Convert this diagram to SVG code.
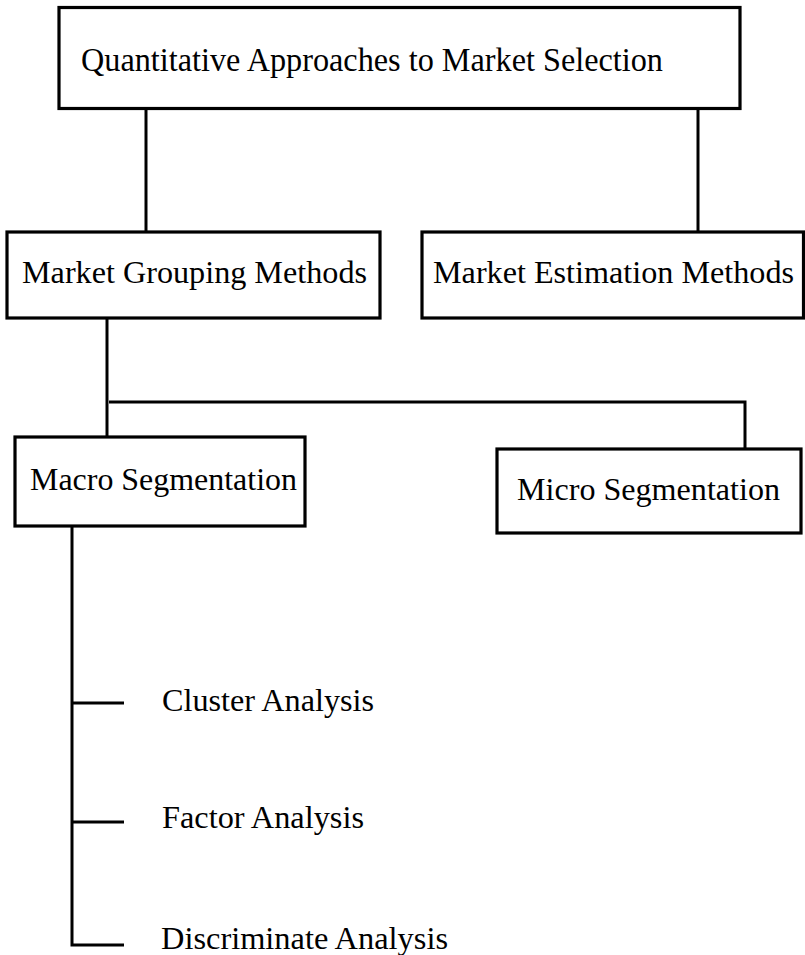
<svg xmlns="http://www.w3.org/2000/svg" width="805" height="955" viewBox="0 0 805 955">
<style>
.box{fill:#fff;stroke:#000;stroke-width:3.2}
.ln{fill:none;stroke:#000;stroke-width:3;stroke-linecap:butt}
.t{font-family:"Liberation Serif","Times New Roman",serif;font-size:31px;fill:#000}
</style>
<rect width="805" height="955" fill="#fff"/>
<g id="connectors">
<line class="ln" x1="146" y1="109" x2="146" y2="232"/>
<line class="ln" x1="698" y1="109" x2="698" y2="232"/>
<line class="ln" x1="107" y1="318" x2="107" y2="443"/>
<polyline class="ln" points="109,402 745,402 745,449"/>
<polyline class="ln" points="72,526 72,945 124,945"/>
<line class="ln" x1="72" y1="703" x2="124" y2="703"/>
<line class="ln" x1="72" y1="822" x2="124" y2="822"/>
</g>
<g id="n-top">
<rect class="box" x="59" y="7.5" width="681" height="101"/>
<text class="t" x="81" y="71" style="font-size:33px" textLength="582" lengthAdjust="spacingAndGlyphs">Quantitative Approaches to Market Selection</text>
</g>
<g id="n-grouping">
<rect class="box" x="7" y="232" width="373" height="86"/>
<text class="t" x="22" y="283" textLength="345" lengthAdjust="spacingAndGlyphs">Market Grouping Methods</text>
</g>
<g id="n-estimation">
<rect class="box" x="422" y="232" width="381.5" height="86"/>
<text class="t" x="433" y="283" textLength="361" lengthAdjust="spacingAndGlyphs">Market Estimation Methods</text>
</g>
<g id="n-macro">
<rect class="box" x="15" y="437" width="290" height="89"/>
<text class="t" x="30" y="490" textLength="267" lengthAdjust="spacingAndGlyphs">Macro Segmentation</text>
</g>
<g id="n-micro">
<rect class="box" x="497" y="449" width="304" height="84"/>
<text class="t" x="517" y="500" textLength="263" lengthAdjust="spacingAndGlyphs">Micro Segmentation</text>
</g>
<g id="n-cluster">
<text class="t" x="162" y="711" textLength="212" lengthAdjust="spacingAndGlyphs">Cluster Analysis</text>
</g>
<g id="n-factor">
<text class="t" x="162" y="828" textLength="202" lengthAdjust="spacingAndGlyphs">Factor Analysis</text>
</g>
<g id="n-discriminate">
<text class="t" x="161" y="949" textLength="287" lengthAdjust="spacingAndGlyphs">Discriminate Analysis</text>
</g>
</svg>
